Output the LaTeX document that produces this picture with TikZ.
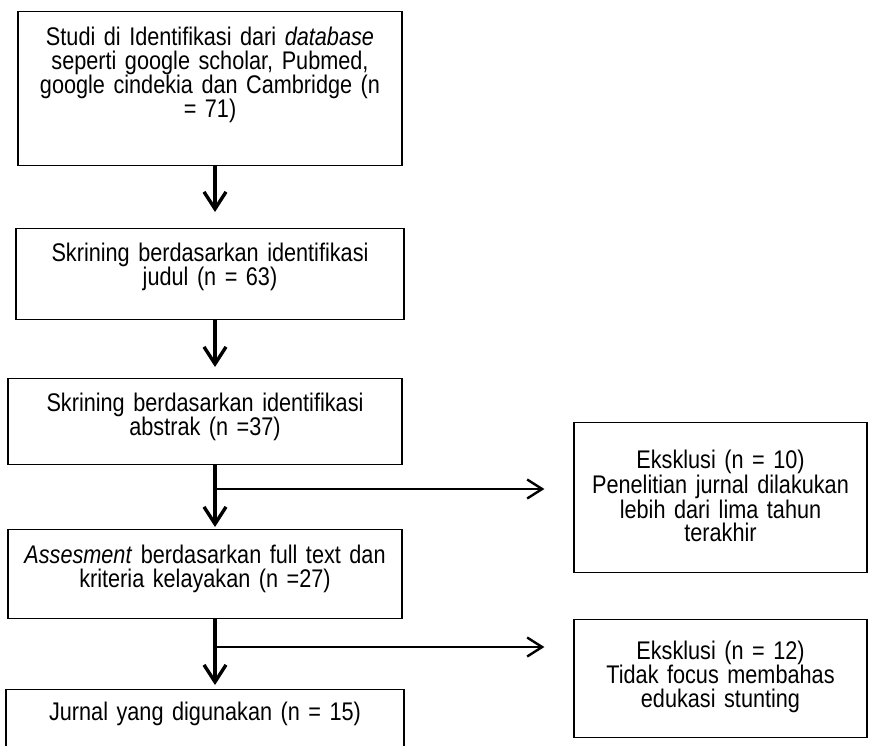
\documentclass[tikz,border=0pt]{standalone}
\usepackage{fontspec}
\setmainfont{Liberation Sans}[FakeStretch=0.85]
\usepackage{tikz}
\usetikzlibrary{arrows.meta,positioning}
\setlength{\lineskiplimit}{-50pt}
\tikzstyle{stepbox} = [draw, line width=1.2pt, inner sep=0pt, anchor=north, align=center, font=\fontsize{25.5}{24}\selectfont]
\tikzstyle{downarrow} = [line width=3.4pt, -{Straight Barb[length=17pt,width=22pt]}]
\tikzstyle{sidearrow} = [line width=2.4pt, -{Straight Barb[length=15pt,width=19pt]}]

\begin{document}
\begin{tikzpicture}[x=1pt, y=-1pt]
\clip (0,0) rectangle (872,745);
% Screening steps
\node[stepbox, text width=384pt, text height=34pt, text depth=120pt] (studi) at (210,11) {Studi di Identifikasi dari \emph{database}\\ seperti google scholar, Pubmed,\\ google cindekia dan Cambridge (n\\ = 71)};
\node[stepbox, text width=388pt, text height=33pt, text depth=58pt] (judul) at (210,228) {Skrining berdasarkan identifikasi\\ judul (n = 63)};
\node[stepbox, text width=394pt, text height=33pt, text depth=53pt] (abstrak) at (205,378) {Skrining berdasarkan identifikasi\\ abstrak (n =37)};
\node[stepbox, text width=394pt, text height=34pt, text depth=55pt] (fulltext) at (205,529) {\emph{Assesment} berdasarkan full text dan\\ kriteria kelayakan (n =27)};
\node[stepbox, text width=398pt, text height=31pt, text depth=80pt] (jurnal) at (205,689) {Jurnal yang digunakan (n = 15)};
% Exclusions
\node[stepbox, text width=293pt, text height=46pt, text depth=104pt, font=\fontsize{25.5}{23.5}\selectfont] (eks1) at (720.5,422) {Eksklusi (n = 10)\\ Penelitian jurnal dilakukan\\ lebih dari lima tahun\\ terakhir};
\node[stepbox, text width=293pt, text height=40pt, text depth=78pt] (eks2) at (720.5,619) {Eksklusi (n = 12)\\ Tidak focus membahas\\ edukasi stunting};
% Arrows
\coordinate (spine) at (215,0);
\coordinate (fork1) at (215,489);
\coordinate (fork2) at (215,647);
\draw[downarrow, shorten >=16pt] (studi.south -| spine) -- (judul.north -| spine);
\draw[downarrow, shorten >=11pt] (judul.south -| spine) -- (abstrak.north -| spine);
\draw[downarrow, shorten >=2pt] (abstrak.south -| spine) -- (fulltext.north -| spine);
\draw[downarrow, shorten >=4pt] (fulltext.south -| spine) -- (jurnal.north -| spine);
\draw[sidearrow, shorten >=29pt] (fork1) -- (fork1 -| eks1.west);
\draw[sidearrow, shorten >=29pt] (fork2) -- (fork2 -| eks2.west);
\end{tikzpicture}
\end{document}
